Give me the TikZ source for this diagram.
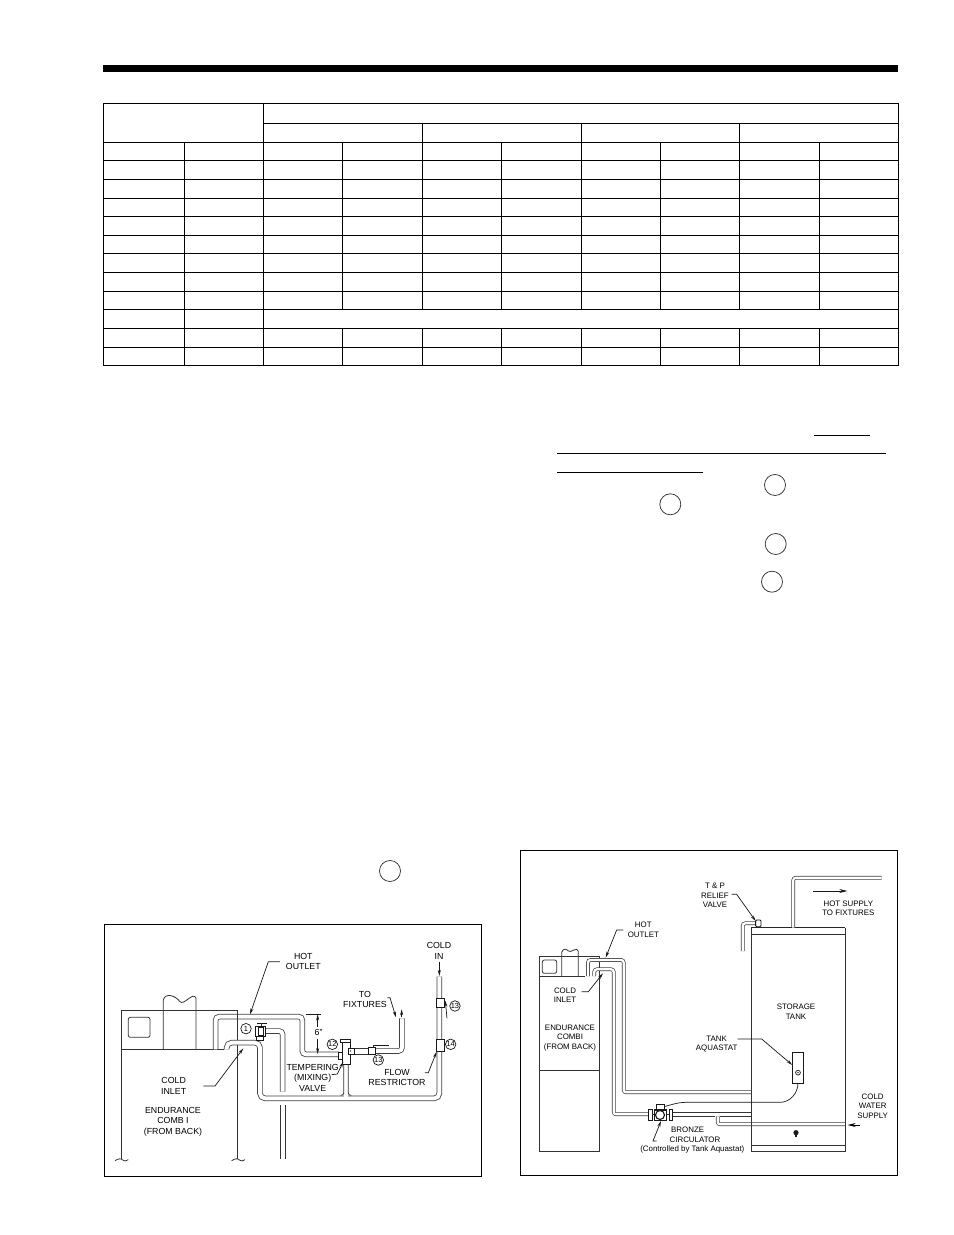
\documentclass[tikz,border=0pt]{standalone}
\usepackage{fontspec}
\setmainfont{Liberation Sans}
\usetikzlibrary{arrows.meta}
\tikzset{
  rule/.style={line width=1bp,black},
  ln/.style={line width=0.8bp,black!80},
  hair/.style={line width=0.7bp,black!90},
  tip/.style={hair,-{Stealth[length=6bp,width=3bp]}},
  part/.style={line width=0.85bp,black!90,fill=white},
  pipeA/.style={line width=0.8bp,draw=black!75,double=white,double distance=3.9bp,rounded corners=3.5bp},
  pipeB/.style={line width=0.7bp,draw=black!75,double=white,double distance=2.3bp,rounded corners=2.5bp},
  txtA/.style={align=center,inner sep=0pt,text=black,font=\fontsize{8.8bp}{10.3bp}\selectfont},
  txtB/.style={align=center,inner sep=0pt,text=black,font=\fontsize{7.9bp}{9.4bp}\selectfont},
  num/.style={circle,draw=black!90,line width=0.7bp,inner sep=0pt,minimum size=10.5bp,text=black,font=\fontsize{7.4bp}{7.5bp}\selectfont},
  ring/.style={circle,draw=black!80,line width=0.75bp,inner sep=0pt,minimum size=21bp}
}
\begin{document}
\begin{tikzpicture}[x=1bp,y=-1bp]
\useasboundingbox (0,0) rectangle (954,1235);
\fill[white] (0,0) rectangle (954,1235);
% top bar
\fill[black] (103,65) rectangle (898,72);
% table
\draw[rule] (103.6,103.3) rectangle (898.3,365.3);
\foreach \y in {142.3,160,179,198,216,235,253.3,272.3,291.3,309,328.3,347.3}
  \draw[rule] (103.6,\y) -- (898.3,\y);
\draw[rule] (263.6,123.3) -- (898.3,123.3);
\draw[rule] (263.6,103.3) -- (263.6,365.3);
\draw[rule] (184.3,142.3) -- (184.3,365.3);
\foreach \x in {422.3,581.3,739.3}
  \draw[rule] (\x,123.3) -- (\x,309);
\foreach \x in {342.7,501,660.3,819.3}
  \draw[rule] (\x,142.3) -- (\x,309);
\foreach \x in {342.7,422.3,501,581.3,660.3,739.3,819.3}
  \draw[rule] (\x,328.3) -- (\x,365.3);
% underlines
\draw[rule] (814,435) -- (870,435);
\draw[rule] (557.3,453.3) -- (886,453.3);
\draw[rule] (557.3,472.3) -- (702.7,472.3);
% rings
\node[ring] (r1) at (775,485) {};
\node[ring] (r2) at (670.3,504.3) {};
\node[ring] (r3) at (775.7,544) {};
\node[ring] (r4) at (772,581.7) {};
\node[ring] (r5) at (390,871) {};

% ---------- left figure (coordinates in 3x crop units)
\begin{scope}[shift={(100,920)},x=0.33333bp,y=-0.33333bp]
\draw[rule] (12,12) rectangle (1145,768);
% boiler
\draw[ln] (65,718) -- (65,270) -- (413,270);
\draw[ln] (65,388) -- (372,388);
\draw[ln,rounded corners=2bp] (85,292) rectangle (150,352);
\draw[ln] (190,388) -- (190,240) .. controls (195,218) and (225,225) .. (240,245) .. controls (252,258) and (280,212) .. (288,235) -- (288,388);
\draw[ln] (45,722) .. controls (55,715) and (65,715) .. (68,720) .. controls (72,726) and (80,722) .. (85,719);
\draw[ln] (395,722) .. controls (405,715) and (415,715) .. (418,720) .. controls (422,726) and (430,722) .. (435,719);
% pipes
\draw[pipeA] (347,388) -- (347,290) -- (607,290) -- (607,403) -- (718,403);
\draw[ln] (413,270) -- (413,718);
\draw[pipeA] (495,333) -- (548,333) -- (548,515);
\draw[ln] (540.5,555) -- (540.5,718) (555.5,555) -- (555.5,718);
\draw[pipeA,rounded corners=5bp] (380,388) -- (380,368) -- (480,368) -- (480,535) -- (1018,535) -- (1018,170);
% branch from the valve to the cold line
\fill[white] (732,430) rectangle (744,530);
\draw[ln] (731,430) -- (731,519) .. controls (731,524) and (728,526) .. (722,526);
\draw[ln] (745,430) -- (745,519) .. controls (745,524) and (748,526) .. (754,526);
% outlet of the tempering valve
\draw[ln] (750,385) -- (810,385) (750,402) -- (810,402);
\draw[pipeA] (822,393) -- (906,393) -- (906,295);
% valve 1
\draw[part] (465,318) rectangle (497,350);
\draw[part] (475,322) rectangle (490,345);
\draw[line width=1.5bp,black!90] (472,310) -- (502,310);
\draw[ln] (485,310) -- (485,318);
\draw[part] (470,350) rectangle (490,362);
% tempering valve
\draw[part] (727,368) rectangle (750,432);
\draw[part] (722,358) rectangle (752,368);
\draw[part] (716,398) rectangle (728,418);
\draw[part] (745,385) rectangle (762,402);
\fill[black!80] (752,393) circle (0.8bp);
% ball valve 13
\draw[part] (805,382) rectangle (825,402);
\draw[line width=1.5bp,black!90] (820,376) -- (868,376);
\draw[ln] (820,376) -- (820,382);
% cold-in fittings
\draw[part] (1010,235) rectangle (1032,262);
\draw[part] (1008,358) rectangle (1032,395);
% labels and leaders
\node[txtA] (a1) at (610,125) {HOT\\OUTLET};
\draw[tip] (540,125) -- (505,125) -- (450,283);
\node[txtA] (a2) at (1017,93) {COLD\\IN};
\draw[tip] (1018,125) -- (1018,168);
\node[txtA] (a3) at (795,238) {TO\\FIXTURES};
\draw[tip] (862,233) -- (870,233) -- (888,292);
\draw[tip] (905,292) -- (905,268);
\node[txtA] (a4) at (221,498) {COLD\\INLET};
\draw[tip] (310,498) -- (345,498) -- (430,385);
\node[txtA] (a5) at (638,473) {TEMPERING\\(MIXING)\\VALVE};
\draw[tip] (695,464) -- (712,462) -- (730,425);
\node[txtA] (a6) at (891,472) {FLOW\\RESTRICTOR};
\draw[tip] (975,458) -- (985,458) -- (1010,395);
\node[txtA] (a7) at (219,605) {ENDURANCE\\COMB I\\(FROM BACK)};
\node[txtA] (a8) at (656,337) {6"};
\draw[hair] (618,283) -- (662,283);
\draw[tip] (653,320) -- (653,283);
\draw[tip] (653,356) -- (653,402);
\node[num] (n1) at (438,326) {1};
\node[num] (n2) at (697,373) {12};
\node[num] (n3) at (835,420) {13};
\node[num] (n4) at (1065,258) {13};
\node[num] (n5) at (1052,373) {14};
\draw[tip] (1041,295) -- (1036,242);
\end{scope}

% ---------- right figure
\begin{scope}[shift={(515,845)},x=0.33333bp,y=-0.33333bp]
\draw[rule] (15,15) rectangle (1147,993);
% boiler
\draw[ln] (73,395) -- (73,335) -- (253,335) -- (253,918) -- (73,918) -- (73,395) -- (210,395);
\draw[ln] (73,675) -- (253,675);
\draw[ln,rounded corners=2bp] (82,345) rectangle (125,385);
\draw[ln] (140,395) -- (140,322) .. controls (145,308) and (155,312) .. (160,318) .. controls (168,326) and (185,302) .. (190,320) -- (190,395);
% pipes
\draw[pipeB] (219,393) -- (219,345) -- (326,345) -- (326,742) -- (708,742);
\draw[pipeB] (238,393) -- (238,373) -- (296,373) -- (296,808) -- (400,808);
\draw[ln] (470,803) -- (708,803) (470,813) -- (600,813);
\draw[pipeB] (990,838) -- (608,838) -- (608,814);
\draw[ln] (616,813) -- (708,813);
% tank
\draw[ln] (708,267) -- (708,918) -- (990,918) -- (990,248);
\draw[line width=1.2bp,black!85] (708,248) -- (990,248);
\draw[ln] (708,248) -- (708,267);
\draw[ln] (708,267) -- (990,267);
\draw[ln] (708,900) -- (990,900);
\fill[black!90] (843,863) circle (2.6bp);
\fill[black!90] (840,866) rectangle (847,876);
% T&P
\draw[pipeB] (722,235) -- (683,235) -- (683,318);
\draw[part,rounded corners=1bp] (722,225) rectangle (738,245);
% hot supply
\draw[pipeB] (835,248) -- (835,98) -- (1100,98);
% aquastat
\draw[part] (833,622) rectangle (866,714);
\draw[ln] (849,683) circle (2.4bp);
\fill[black] (849,683) circle (0.7bp);
\draw[hair] (849,714) .. controls (849,745) and (825,772) .. (795,772) -- (510,772) .. controls (490,772) and (465,780) .. (448,785);
% circulator
\draw[part] (400,793) rectangle (412,826);
\draw[part] (462,793) rectangle (472,826);
\draw[ln] (412,808) -- (420,808);
\draw[ln] (452,808) -- (462,808);
\draw[part] (425,778) rectangle (448,795);
\draw[line width=1.2bp,black!90,fill=white] (418,795) rectangle (455,826);
\draw[line width=1.1bp,black!90] (435,810) circle (4.5bp);
% labels and leaders
\node[txtB] (b1) at (600,151) {T \& P\\RELIEF\\VALVE};
\draw[tip] (650,148) -- (665,148) -- (722,228);
\node[txtB] (b2) at (385,254) {HOT\\OUTLET};
\draw[tip] (325,255) -- (305,255) -- (272,338);
\node[txtB] (b3) at (150,450) {COLD\\INLET};
\draw[tip] (200,440) -- (220,440) -- (264,385);
\node[txtB] (b4) at (165,578) {ENDURANCE\\COMBI\\(FROM BACK)};
\node[txtB] (b5) at (843,500) {STORAGE\\TANK};
\node[txtB] (b6) at (605,597) {TANK\\AQUASTAT};
\draw[tip] (668,582) -- (740,582) -- (832,660);
\node[txtB] (b7) at (1000,189) {HOT SUPPLY\\TO FIXTURES};
\draw[hair,-{Stealth[length=8bp,width=4bp]}] (895,138) -- (997,138);
\node[txtB] (b8) at (1073,783) {COLD\\WATER\\SUPPLY};
\draw[line width=0.9bp,black,-{Stealth[length=8bp,width=4bp]}] (1036,840) -- (998,840);
\node[txtB] (b9) at (518,855) {BRONZE};
\node[txtB] (b10) at (540,883) {CIRCULATOR};
\node[txtB] (b11) at (532,912) {(Controlled by Tank Aquastat)};
\draw[tip] (425,888) -- (414,888) -- (438,828);
\end{scope}
\end{tikzpicture}
\end{document}
